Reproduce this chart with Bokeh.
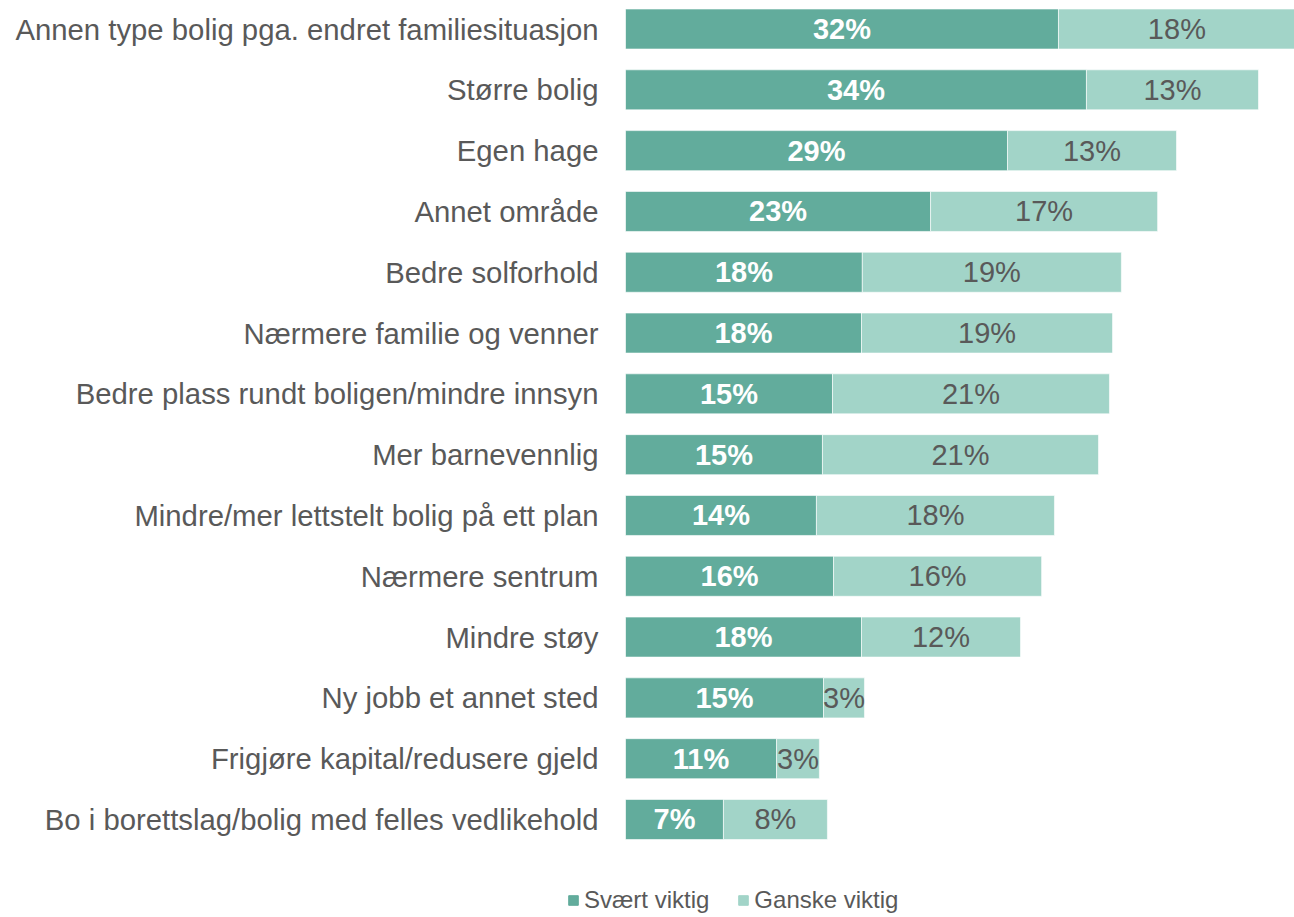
from bokeh.plotting import figure
from bokeh.models import ColumnDataSource, Range1d, FixedTicker, Legend, LegendItem
from bokeh.embed import file_html
from bokeh.resources import INLINE
from bokeh.core.properties import value

categories = [
    "Annen type bolig pga. endret familiesituasjon",
    "Større bolig",
    "Egen hage",
    "Annet område",
    "Bedre solforhold",
    "Nærmere familie og venner",
    "Bedre plass rundt boligen/mindre innsyn",
    "Mer barnevennlig",
    "Mindre/mer lettstelt bolig på ett plan",
    "Nærmere sentrum",
    "Mindre støy",
    "Ny jobb et annet sted",
    "Frigjøre kapital/redusere gjeld",
    "Bo i borettslag/bolig med felles vedlikehold",
]
svaert_viktig = [32.36, 34.45, 28.55, 22.8, 17.7, 17.64, 15.47, 14.72, 14.27, 15.55, 17.64, 14.8, 11.29, 7.32]
ganske_viktig = [17.7, 12.86, 12.63, 16.97, 19.36, 18.76, 20.7, 20.63, 17.79, 15.55, 11.88, 3.06, 3.2, 7.77]
svaert_labels = ["32%", "34%", "29%", "23%", "18%", "18%", "15%", "15%", "14%", "16%", "18%", "15%", "11%", "7%"]
ganske_labels = ["18%", "13%", "13%", "17%", "19%", "19%", "21%", "21%", "18%", "16%", "12%", "3%", "3%", "8%"]
series_names = ["Svært viktig", "Ganske viktig"]

DARK = "#62ac9c"
LIGHT = "#a2d4c8"
TEXT = "#595959"
FONT = "Liberation Sans"

ypos = list(range(len(categories)))
src = ColumnDataSource(dict(
    y=ypos,
    s=svaert_viktig,
    g=ganske_viktig,
    s_mid=[v / 2 for v in svaert_viktig],
    g_mid=[a + b / 2 for a, b in zip(svaert_viktig, ganske_viktig)],
    s_lab=svaert_labels,
    g_lab=ganske_labels,
))

p = figure(width=1294, height=870, output_backend="svg", toolbar_location=None,
           x_range=Range1d(0, 50.0), y_range=Range1d(13.839, -0.469),
           min_border_left=625, min_border_right=0, min_border_top=0, min_border_bottom=0)

rs = p.hbar_stack(["s", "g"], y="y", height=0.658, color=[DARK, LIGHT], source=src,
                  line_color="white", line_width=1, line_alpha=0.6)

p.text(x="s_mid", y="y", text="s_lab", source=src, text_align="center", text_baseline="middle",
       text_color="white", text_font_style="bold", text_font_size="29px", text_font=value(FONT))
p.text(x="g_mid", y="y", text="g_lab", source=src, text_align="center", text_baseline="middle",
       text_color=TEXT, text_font_size="29px", text_font=value(FONT))

p.xaxis.visible = False
p.xgrid.visible = False
p.ygrid.visible = False
p.outline_line_color = None

yax = p.yaxis[0]
yax.ticker = FixedTicker(ticks=ypos)
yax.major_label_overrides = {i: c for i, c in zip(ypos, categories)}
yax.major_label_text_font_size = "29.3px"
yax.major_label_text_font = FONT
yax.major_label_text_color = TEXT
yax.major_tick_line_color = None
yax.minor_tick_line_color = None
yax.major_tick_out = 0
yax.major_tick_in = 0
yax.axis_line_color = None
yax.major_label_standoff = 27

# legend strip below the chart (separate root so its frame spans the full width)
p2 = figure(width=1294, height=47, output_backend="svg", toolbar_location=None,
            x_range=Range1d(0, 1), y_range=Range1d(100, 101),
            min_border_left=0, min_border_right=0, min_border_top=0, min_border_bottom=0)
p2.axis.visible = False
p2.grid.visible = False
p2.outline_line_color = None
# legend proxies: same data, but outside this strip's visible range
lr = p2.hbar_stack(["s", "g"], y="y", height=0.658, color=[DARK, LIGHT], source=src)

legend = Legend(items=[LegendItem(label=series_names[0], renderers=[lr[0]]),
                       LegendItem(label=series_names[1], renderers=[lr[1]])],
                orientation="horizontal", location=(567, 3),
                border_line_color=None, background_fill_alpha=0, padding=0, margin=0,
                glyph_width=12, glyph_height=12, label_standoff=5, spacing=28,
                label_text_font_size="24px", label_text_font=FONT, label_text_color=TEXT)
p2.add_layout(legend)

open("out.html", "w").write(file_html([p, p2], INLINE))
